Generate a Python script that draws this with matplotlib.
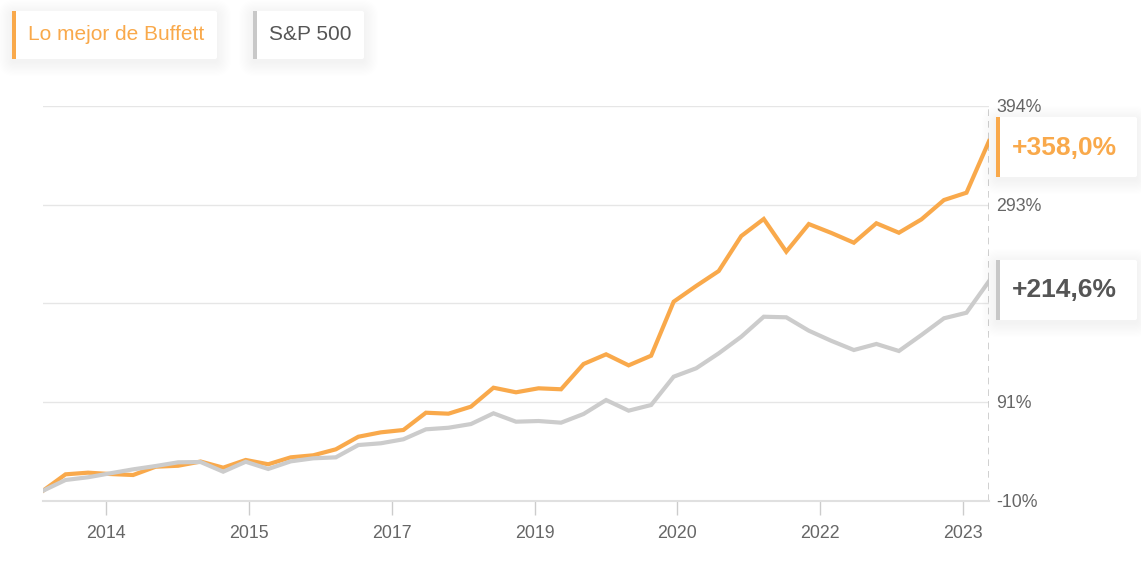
import matplotlib
matplotlib.use('Agg')
import matplotlib.pyplot as plt
from matplotlib.patches import FancyBboxPatch, Rectangle
from matplotlib.transforms import IdentityTransform

plt.rcParams['font.family'] = ['Liberation Sans', 'DejaVu Sans']

# ---------------- data ----------------
series_names = ["Lo mejor de Buffett", "S&P 500"]
buffett = [0, 16.8, 18.5, 17.1, 16.1, 24.6, 25.6, 29.9, 23.6, 31.5, 27.1, 34.2, 36.3,
           42.4, 55.3, 59.8, 62.2, 79.9, 78.9, 86.1, 105.5, 100.8, 104.9, 103.9, 129.8,
           139.7, 128.4, 138.3, 193.6, 209.7, 225.0, 260.8, 278.3, 244.8, 273.1, 264.0,
           254.0, 273.9, 264.2, 277.9, 297.7, 305.2, 358.0]
sp500 = [0, 11.0, 13.8, 17.9, 21.9, 25.3, 29.1, 29.4, 19.5, 29.7, 22.3, 30.1, 33.2,
         34.2, 46.8, 48.6, 52.7, 62.9, 64.5, 68.3, 79.3, 70.7, 71.4, 69.7, 78.6, 92.9,
         82.0, 87.8, 116.8, 125.4, 140.7, 157.7, 178.2, 177.6, 163.9, 153.5, 144.1,
         150.3, 143.1, 159.5, 176.6, 182.3, 214.6]
xtick_labels = ["2014", "2015", "2017", "2019", "2020", "2022", "2023"]
xtick_pos = [2.8, 9.14, 15.5, 21.83, 28.17, 34.5, 40.84]
ytick_vals = [-10, 91, 192, 293, 394]
ytick_labels = ["-10%", "91%", "", "293%", "394%"]
final_labels = ["+358,0%", "+214,6%"]

ORANGE = "#F9A94B"
GRAY_LINE = "#CCCCCC"
GRAY_TEXT = "#555555"
AXIS_TEXT = "#666666"

W, H = 1141, 577
fig = plt.figure(figsize=(W / 100, H / 100), dpi=100)
fig.patch.set_facecolor("white")

def fx(px):
    return px / W

def fy(py):
    return 1 - py / H

left, right, top, bottom = 43, 989, 106, 500.5
ax = fig.add_axes([fx(left), fy(bottom), fx(right) - fx(left), fy(top) - fy(bottom)])
x = list(range(len(buffett)))
ax.plot(x, buffett, color=ORANGE, lw=3, solid_joinstyle='miter', zorder=3)
ax.plot(x, sp500, color=GRAY_LINE, lw=3, solid_joinstyle='miter', zorder=4)
ax.set_xlim(0, len(buffett) - 1)
ax.set_ylim(-10, 394)

for s in ["top", "left", "right"]:
    ax.spines[s].set_visible(False)
ax.spines["bottom"].set_color("#E0E0E0")
ax.spines["bottom"].set_linewidth(1.5)

ax.set_xticks(xtick_pos)
ax.set_xticklabels(xtick_labels)
ax.tick_params(axis='x', length=10, width=1, color="#CCCCCC", labelsize=12.8,
               labelcolor=AXIS_TEXT, pad=8)
ax.yaxis.tick_right()
ax.set_yticks(ytick_vals)
ax.set_yticklabels(ytick_labels)
ax.tick_params(axis='y', length=0, labelsize=12.8, labelcolor=AXIS_TEXT, pad=5)
ax.yaxis.grid(True, color="#E6E6E6", lw=1)
ax.set_axisbelow(True)
ax.axvline(len(buffett) - 1, color="#C8C8C8", lw=1.2, ls=(0, (4, 3)), zorder=2)

# ---------------- boxes (pixel coordinates) ----------------
ident = IdentityTransform()

def box(x0, y0, x1, y1, bar_color):
    # soft shadow
    for k in range(12):
        g = 1 + k * 1.2
        sh = FancyBboxPatch((x0 - g, H - y1 - g - 3), (x1 - x0) + 2 * g, (y1 - y0) + 2 * g,
                            boxstyle="round,pad=0,rounding_size=%f" % (3 + g),
                            transform=ident, facecolor="black", edgecolor="none",
                            alpha=0.0045, zorder=9)
        fig.add_artist(sh)
    b = FancyBboxPatch((x0, H - y1), x1 - x0, y1 - y0,
                       boxstyle="round,pad=0,rounding_size=2", transform=ident,
                       facecolor="white", edgecolor="none", zorder=10)
    fig.add_artist(b)
    bar = Rectangle((x0, H - y1), 4, y1 - y0, transform=ident,
                    facecolor=bar_color, edgecolor="none", zorder=11)
    fig.add_artist(bar)

box(12, 11, 217, 59, ORANGE)
fig.text(fx(28), fy(35), series_names[0], color=ORANGE, fontsize=15,
         ha="left", va="center", zorder=12)
box(253, 11, 364, 59, "#C8C8C8")
fig.text(fx(269), fy(35), series_names[1], color=GRAY_TEXT, fontsize=15,
         ha="left", va="center", zorder=12)

box(996, 117, 1137, 177, ORANGE)
fig.text(fx(1012), fy(148), final_labels[0], color=ORANGE, fontsize=19,
         fontweight="bold", ha="left", va="center", zorder=12)
box(996, 260, 1137, 320, "#C8C8C8")
fig.text(fx(1012), fy(290), final_labels[1], color=GRAY_TEXT, fontsize=19,
         fontweight="bold", ha="left", va="center", zorder=12)

fig.savefig("out.png", dpi=100, facecolor="white")
